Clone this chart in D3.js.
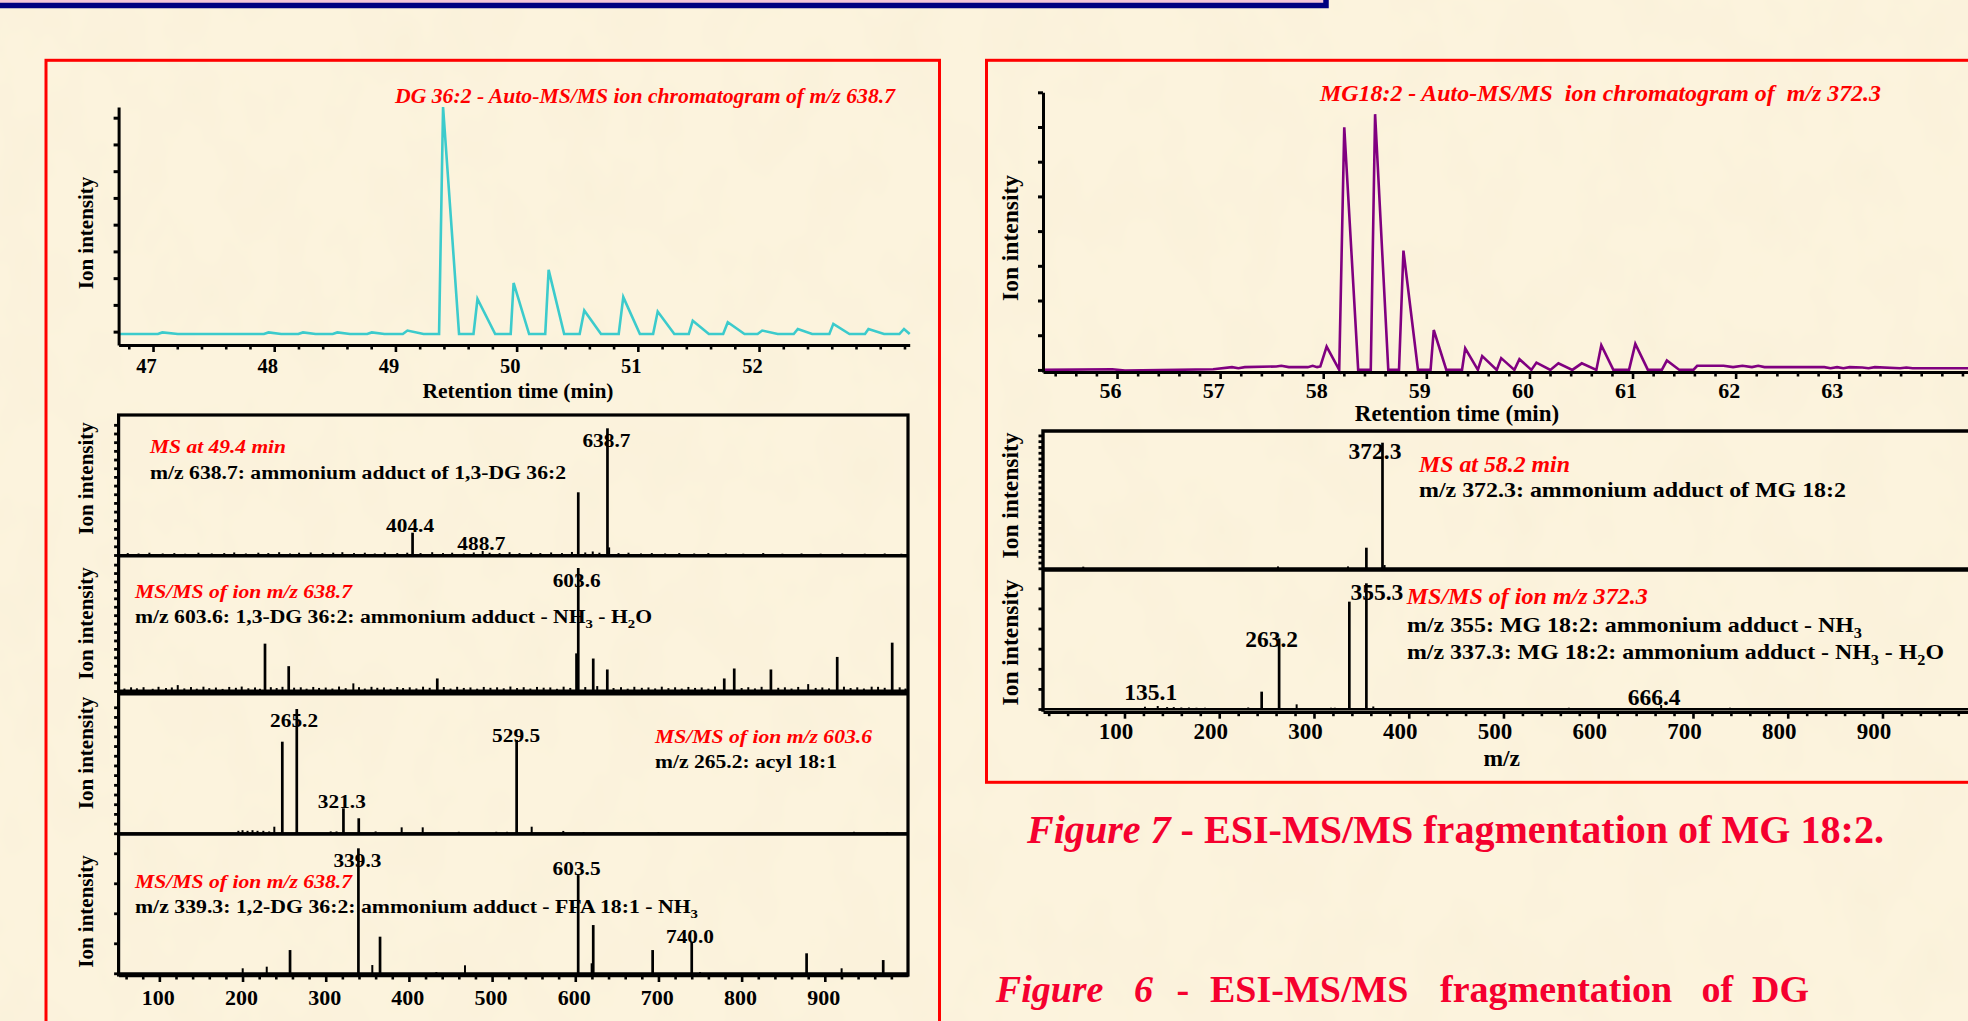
<!DOCTYPE html>
<html>
<head>
<meta charset="utf-8">
<script src="https://d3js.org/d3.v7.min.js"></script>
<style>
  body { margin: 0; background: #fbf1da; overflow: hidden; }
</style>
</head>
<body>
<div id="poster"></div>
<script>

// ---------------- data ----------------

// Fig 6 - DG 36:2 : auto-MS/MS ion chromatogram of m/z 638.7  [retention time (min), intensity (tick units)]
var dgTrace = [[46.716,-0.09],[47.040,-0.09],[47.077,-0.03],[47.205,-0.09],[47.915,-0.09],[47.953,-0.03],
  [48.057,-0.09],[48.199,-0.09],[48.237,-0.03],[48.341,-0.09],[48.483,-0.09],[48.521,-0.03],[48.625,-0.09],
  [48.767,-0.09],[48.805,-0.03],[48.909,-0.09],[49.061,-0.09],[49.099,0.04],[49.232,-0.09],[49.360,-0.09],
  [49.393,8.40],[49.525,-0.09],[49.644,-0.09],[49.677,1.22],[49.823,-0.09],[49.951,-0.09],[49.975,1.82],
  [50.103,-0.09],[50.236,-0.09],[50.264,2.31],[50.392,-0.09],[50.520,-0.09],[50.558,0.79],[50.696,-0.09],
  [50.842,-0.09],[50.880,1.29],[51.017,-0.09],[51.126,-0.09],[51.164,0.75],[51.301,-0.09],[51.420,-0.09],
  [51.453,0.41],[51.586,-0.09],[51.704,-0.09],[51.742,0.35],[51.880,-0.09],[51.988,-0.09],[52.026,0.04],
  [52.154,-0.09],[52.286,-0.09],[52.320,0.10],[52.438,-0.09],[52.580,-0.09],[52.613,0.29],[52.746,-0.09],
  [52.874,-0.09],[52.903,0.10],[53.031,-0.09],[53.158,-0.09],[53.196,0.10],[53.243,-0.09]];

// Fig 7 - MG 18:2 : auto-MS/MS ion chromatogram of m/z 372.3
var mgTrace = [[55.282,0],[55.954,0.02],[56.077,-0.02],[56.932,0.02],[57.115,0.08],[57.177,0.05],[57.239,0.08],
  [57.544,0.10],[57.593,0.12],[57.666,0.08],[57.850,0.08],[57.898,0.12],[57.941,0.08],[57.972,0.10],[58.033,0.67],
  [58.155,0],[58.204,6.99],[58.339,0],[58.461,0],[58.503,7.37],[58.631,0],[58.735,0],[58.778,3.44],[58.919,0],
  [59.041,0],[59.072,1.15],[59.194,0],[59.346,0],[59.377,0.62],[59.500,0],[59.542,0.40],[59.683,0],[59.726,0.34],
  [59.854,0],[59.903,0.31],[60.019,0],[60.068,0.21],[60.203,0],[60.281,0.19],[60.416,0],[60.508,0.19],[60.649,0],
  [60.697,0.71],[60.814,0],[60.966,0],[61.027,0.75],[61.149,0],[61.284,0],[61.333,0.27],[61.455,0],[61.590,0],
  [61.627,0.12],[61.883,0.12],[61.975,0.08],[62.066,0.12],[62.158,0.08],[62.219,0.12],[62.280,0.08],[62.860,0.08],
  [62.921,0.05],[62.984,0.08],[63.045,0.05],[63.106,0.08],[63.228,0.07],[63.289,0.05],[63.350,0.08],[63.595,0.05],
  [63.656,0.07],[63.717,0.05],[64.255,0.05]];

// spectra [m/z, relative intensity %]
var ms49 = [[404.4,17.6],[488.7,3.2],[603.6,49.5],[638.7,100],[640.7,6],
  [62,1.5],[75,1.2],[88,1.8],[104,1.2],[118,1.5],[131,1.0],[147,1.8],[163,1.2],[178,1.5],[190,2.0],[204,1.2],
  [219,1.8],[231,1.5],[244,2.2],[257,1.2],[268,1.8],[282,2.0],[296,1.5],[309,1.8],[320,2.2],[334,1.5],[347,1.8],
  [359,1.2],[371,2.0],[386,1.5],[398,1.8],[414,1.5],[428,2.2],[441,1.5],[452,1.8],[466,1.2],[478,2.0],[497,1.8],
  [509,1.5],[521,2.2],[533,1.5],[547,1.8],[558,1.5],[571,2.0],[584,1.5],[596,2.4],[612,2.0],[621,2.8],[629,1.8],
  [652,1.5],[664,1.8],[679,1.2],[692,1.5],[708,1.2],[725,1.5],[743,1.2],[760,1.5],[781,1.2],[802,1.0],[826,1.5],
  [849,1.0],[872,1.2],[895,1.0],[921,1.2],[948,1.0],[972,1.2],[992,1.0]];

var msms638a = [[122.1,4.8],[227,38.5],[255.5,20.2],[333.2,6.2],[434.1,10.2],[601.5,30.6],[603.6,100],[621.6,26.4],
  [626.4,4],[638.5,17.5],[779.1,10.2],[791.1,18.3],[835.2,17.5],[880,5.6],[914.9,27.7],[956.3,3.5],[981,39.3],
  [58,2],[66,3],[73,2.2],[81,3.1],[92,1.8],[99,3.4],[108,2.4],[115,2.9],[130,2.1],[138,3.2],[145,1.9],[153,3.5],
  [160,2.3],[168,2.8],[176,1.7],[184,3.3],[192,2.6],[199,3.6],[207,2.2],[215,2.9],[221,1.8],[234,3.1],[241,2.4],
  [248,3.4],[262,2.7],[270,3.0],[277,1.9],[285,3.3],[292,2.5],[300,2.8],[308,2.0],[316,3.6],[324,2.3],[340,3.1],
  [347,2.0],[355,3.4],[362,2.6],[370,2.9],[378,1.8],[386,3.2],[393,2.4],[401,3.0],[409,2.1],[417,3.5],[425,2.6],
  [442,3.2],[450,2.0],[458,3.4],[466,2.5],[474,2.9],[482,1.9],[490,3.3],[498,2.6],[506,3.0],[514,2.2],[522,3.6],
  [530,2.4],[538,3.1],[546,2.0],[554,3.3],[562,2.7],[570,2.9],[578,1.8],[586,3.5],[594,2.5],[612,3.2],[646,2.4],
  [655,3.1],[663,1.9],[671,3.4],[680,2.6],[688,2.9],[696,2.1],[704,3.5],[712,2.3],[720,3.0],[728,2.0],[736,3.3],
  [744,2.5],[752,2.9],[760,1.9],[768,3.6],[800,2.4],[808,3.1],[816,2.1],[824,3.4],[844,2.6],[852,3.0],[860,2.0],
  [868,3.3],[889,2.5],[897,2.9],[905,2.1],[923,3.5],[931,2.4],[939,3.0],[947,2.0],[964,3.4],[972,2.6],[990,3.0],[997,2.0]];

var msms603 = [[265.2,100],[247.8,73.7],[529.5,75.1],[321.3,20.1],[339.7,12.1],[238.2,5.3],[391.3,4.8],[416.6,4.8],
  [547.6,5.3],[585.6,1.9],[195,2],[200,2.5],[206,2],[212,2.5],[218,2],[225,2],[232,1.5],[306,1.5],[313,1.5],
  [360,1.5],[460,1.2],[505,1.2],[518,1.2],[610,1],[700,1],[935,1.2],[975,1]];

var msms638b = [[339.3,100],[603.5,78.6],[621.6,38.6],[365.3,29.3],[257.1,18.6],[693,18.6],[740.0,25.3],[878.1,16],
  [970.2,10.6],[200.2,4],[229.1,5.3],[356,6.6],[467.4,6.4],[920.2,4],[619.7,8],[433,1],[750,1]];

var ms58 = [[56.5,1.3],[262,1.5],[335.9,1.5],[355.3,16.4],[372.3,100],[374.5,2.6]];

var msms372 = [[121.6,1.8],[135.1,2.4],[145,1.5],[152,1.5],[160,1.2],[168,1.2],[176,1.0],[185,1.0],[230.6,1.2],
  [244.8,13.8],[263.2,56.2],[281.7,3.7],[318,1],[322,1],[337.3,85.4],[355.3,100],[362.6,2],[569,1],[666.4,3.2],[739,1]];

// peak labels [m/z of labelled peak, text]
var ms49Labels     = [[404.4,"404.4"],[488.7,"488.7"],[638.7,"638.7"]];
var msms638aLabels = [[603.6,"603.6"]];
var msms603Labels  = [[265.2,"265.2"],[321.3,"321.3"],[529.5,"529.5"]];
var msms638bLabels = [[339.3,"339.3"],[603.5,"603.5"],[740.0,"740.0"]];
var ms58Labels     = [[372.3,"372.3"]];
var msms372Labels  = [[355.3,"355.3"],[263.2,"263.2"],[135.1,"135.1"],[666.4,"666.4"]];

// tick labels
var dgTimeTicks = [47, 48, 49, 50, 51, 52];
var mgTimeTicks = [56, 57, 58, 59, 60, 61, 62, 63];
var mzTicks = [100, 200, 300, 400, 500, 600, 700, 800, 900];

// ---------------- drawing ----------------

var W = 1968, H = 1021;
var FONT = '"Liberation Serif", "Times New Roman", Times, serif';
var RED = "#ff0000";

var svg = d3.select("#poster").append("svg")
  .attr("width", W).attr("height", H);

// parchment background
var defs = svg.append("defs");
var paper = defs.append("filter").attr("id", "paper")
  .attr("x", 0).attr("y", 0).attr("width", "100%").attr("height", "100%");
paper.append("feTurbulence").attr("type", "fractalNoise")
  .attr("baseFrequency", "0.018 0.012").attr("numOctaves", 3).attr("seed", 7);
paper.append("feColorMatrix").attr("type", "matrix")
  .attr("values", "0 0 0 0 0.90  0 0 0 0 0.84  0 0 0 0 0.64  0.55 0 0 0 -0.22");
svg.append("rect").attr("width", W).attr("height", H).attr("fill", "#fcf3dd");
svg.append("rect").attr("width", W).attr("height", H).attr("filter", "url(#paper)");

// title banner remnant at the top
svg.append("rect").attr("x", -10).attr("y", -30).attr("width", 1336).attr("height", 35.5)
  .attr("fill", "#f4c6d8").attr("stroke", "#000080").attr("stroke-width", 5.5);

// red frames
svg.append("rect").attr("x", 46).attr("y", 60.3).attr("width", 893.5).attr("height", 1000)
  .attr("fill", "none").attr("stroke", RED).attr("stroke-width", 3);
svg.append("rect").attr("x", 986.5).attr("y", 60.3).attr("width", 1100).attr("height", 722)
  .attr("fill", "none").attr("stroke", RED).attr("stroke-width", 3);

// text helper: parts may be strings, {it: "..."} or {sub: "..."}
function addText(parent, o) {
  var t = parent.append("text")
    .attr("x", o.x).attr("y", o.y)
    .attr("font-family", FONT).attr("font-weight", "bold")
    .attr("font-size", o.size)
    .attr("font-style", o.italic ? "italic" : null)
    .attr("fill", o.color || "#000")
    .attr("text-anchor", o.anchor || "start")
    .style("white-space", "pre");
  if (o.transform) t.attr("transform", o.transform);
  if (o.w) t.attr("textLength", o.w).attr("lengthAdjust", "spacingAndGlyphs");
  var parts = typeof o.text === "string" ? [o.text] : o.text;
  var low = false, shift = o.size * 0.28;
  parts.forEach(function(p) {
    var s = t.append("tspan");
    if (typeof p === "string") {
      s.text(p);
      if (low) { s.attr("dy", -shift); low = false; }
    } else if (p.sub) {
      s.text(p.sub).attr("font-size", o.size * 0.68).attr("dy", shift);
      low = true;
    } else if (p.it) {
      s.text(p.it).attr("font-style", "italic");
      if (low) { s.attr("dy", -shift); low = false; }
    }
  });
  return t;
}

function ionLabel(x, y, size) {
  addText(svg, {x: 0, y: 0, text: "Ion intensity", size: size, anchor: "middle",
    transform: "translate(" + x + "," + y + ") rotate(-90)"});
}

function styleAxis(g, o) {
  g.attr("font-family", null).attr("font-size", null);
  g.select(".domain").attr("stroke", "#000").attr("stroke-width", o.line || 3);
  if (o.noDomain) g.select(".domain").remove();
  g.selectAll(".tick line").attr("stroke", "#000").attr("stroke-width", o.tickWidth || 2.6);
  if (o.major) {
    g.selectAll(".tick line").attr("y2", function(d) { return o.major(d) ? o.majorLen : o.minorLen; });
  }
  g.selectAll(".tick text")
    .attr("x", o.dx || 0).attr("y", o.labelY).attr("dy", null)
    .attr("fill", "#000").attr("font-family", FONT).attr("font-weight", "bold")
    .attr("font-size", o.size);
}

// ---- chromatograms ----
function drawChrom(cfg) {
  var g = svg.append("g");
  var line = d3.line()
    .x(function(d) { return cfg.x(d[0]); })
    .y(function(d) { return cfg.y(d[1]); });
  g.append("path").datum(cfg.data)
    .attr("d", line).attr("fill", "none")
    .attr("stroke", cfg.color).attr("stroke-width", 2.6).attr("stroke-linejoin", "miter");

  var isMajor = function(d) { return cfg.labels.indexOf(Math.round(d * 5) / 5) >= 0; };
  var ax = g.append("g").attr("transform", "translate(0," + cfg.axisY + ")")
    .call(d3.axisBottom(cfg.x).tickValues(cfg.ticks).tickSizeOuter(0)
      .tickFormat(function(d) { return isMajor(d) ? d3.format("d")(d) : ""; }));
  styleAxis(ax, {line: 3, major: isMajor, majorLen: 7, minorLen: 4.5, dx: cfg.labelDx,
    labelY: cfg.labelY, size: cfg.labelSize});

  var ay = g.append("g").attr("transform", "translate(" + cfg.axisX + ",0)")
    .call(d3.axisLeft(cfg.y).tickValues(d3.range(0, 9)).tickSize(5).tickSizeOuter(0).tickFormat(""));
  styleAxis(ay, {line: 3, tickWidth: 3});
}

var xDg = d3.scaleLinear().domain([46.716, 53.243]).range([118.6, 909.7]);
var yDg = d3.scaleLinear().domain([-0.5, 8.4]).range([345, 107]);
drawChrom({data: dgTrace, x: xDg, y: yDg, color: "#3ccbcc", axisY: 345, axisX: 118.6,
  ticks: d3.range(234, 267).map(function(k) { return k / 5; }), labels: dgTimeTicks,
  labelDx: -7, labelY: 28, labelSize: 20.5});

var xMg = d3.scaleLinear().domain([55.282, 64.6]).range([1043, 2003.7]);
var yMg = d3.scaleLinear().domain([-0.06, 8]).range([372, 92.3]);
drawChrom({data: mgTrace, x: xMg, y: yMg, color: "#800080", axisY: 372, axisX: 1043,
  ticks: d3.range(277, 323).map(function(k) { return k / 5; }), labels: mgTimeTicks,
  labelDx: -7, labelY: 26, labelSize: 22});

addText(svg, {x: 395, y: 103, text: "DG 36:2 - Auto-MS/MS ion chromatogram of m/z 638.7",
  size: 21.5, italic: true, color: RED, w: 500});
addText(svg, {x: 518, y: 398, text: "Retention time (min)", size: 21.5, anchor: "middle"});
ionLabel(93, 233, 21);

addText(svg, {x: 1320, y: 101, text: "MG18:2 - Auto-MS/MS  ion chromatogram of  m/z 372.3",
  size: 23, italic: true, color: RED, w: 561});
addText(svg, {x: 1457, y: 421, text: "Retention time (min)", size: 23, anchor: "middle"});
ionLabel(1017.7, 238, 23.5);

// ---- stacked spectra ----
function drawSpectrum(x, y, data, cfg) {
  var g = svg.append("g");
  var x0 = x.range()[0], x1 = Math.min(x.range()[1], cfg.xEnd);
  g.append("line").attr("x1", x0).attr("x2", x1).attr("y1", y(0)).attr("y2", y(0))
    .attr("stroke", "#000").attr("stroke-width", cfg.base || 2);
  g.selectAll("line.peak").data(data).enter().append("line")
    .attr("class", "peak")
    .attr("x1", function(d) { return x(d[0]); }).attr("x2", function(d) { return x(d[0]); })
    .attr("y1", y(0)).attr("y2", function(d) { return y(d[1]); })
    .attr("stroke", "#000").attr("stroke-width", function(d) { return d[1] > 8 ? 2.7 : 2; });

  var ay = g.append("g").attr("transform", "translate(" + x0 + ",0)")
    .call(d3.axisLeft(y).tickValues(d3.range(0, y.invert(cfg.top + 4), cfg.step))
      .tickSize(4.5).tickSizeOuter(0).tickFormat(""));
  styleAxis(ay, {noDomain: true, tickWidth: 2.8});

  (cfg.labels || []).forEach(function(l, i) {
    var peak = data.filter(function(d) { return d[0] === l[0]; })[0];
    addText(g, {x: x(l[0]) + cfg.labelDx[i], y: y(peak[1]) + cfg.labelDy[i], text: l[1],
      size: cfg.labelSize, anchor: "middle", w: cfg.labelW});
  });
}

// left stack (Figure 6)
var xMzL = d3.scaleLinear().domain([51, 1000]).range([118.6, 908]);
var leftPanels = [
  {data: ms49,     top: 415, base: 555,   full: 428.3, step: 6.85, labels: ms49Labels,
   labelDx: [-2.5, -1.3, -1], labelDy: [-1, -1, 18.4]},
  {data: msms638a, top: 556, base: 691,   full: 568,   step: 6.85, labels: msms638aLabels, base2: 3,
   labelDx: [-1.6], labelDy: [18.7]},
  {data: msms603,  top: 694, base: 833.3, full: 709,   step: 7.8,  labels: msms603Labels,
   labelDx: [-2.7, -1.6, -0.5], labelDy: [17.7, 0, 1.7]},
  {data: msms638b, top: 834, base: 973.3, full: 848.3, step: 24,   labels: msms638bLabels,
   labelDx: [-1, -1.6, -1.7], labelDy: [18.4, 0, 1.6]}
];
leftPanels.forEach(function(p) {
  var y = d3.scaleLinear().domain([0, 100]).range([p.base, p.full]);
  drawSpectrum(xMzL, y, p.data, {top: p.top, step: p.step, labels: p.labels, xEnd: 908,
    labelDx: p.labelDx, labelDy: p.labelDy, labelSize: 19.5, labelW: 48, base: p.base2 || 2});
});
svg.append("rect").attr("x", 118.6).attr("y", 415).attr("width", 789.4).attr("height", 560)
  .attr("fill", "none").attr("stroke", "#000").attr("stroke-width", 3.2);
[555.7, 693.8, 834].forEach(function(v) {
  svg.append("line").attr("x1", 118.6).attr("x2", 908).attr("y1", v).attr("y2", v)
    .attr("stroke", "#000").attr("stroke-width", 3.4);
});
var mzMajor = function(d) { return d % 100 === 0; };
var axL = svg.append("g").attr("transform", "translate(0,975)")
  .call(d3.axisBottom(xMzL).tickValues(d3.range(60, 1000, 20)).tickSizeOuter(0)
    .tickFormat(function(d) { return mzTicks.indexOf(d) >= 0 ? d : ""; }));
styleAxis(axL, {line: 3.4, major: mzMajor, majorLen: 7, minorLen: 4.5, dx: -1.6, labelY: 30, size: 22});

var ANN = 18.5;
addText(svg, {x: 150, y: 453.3, text: "MS at 49.4 min", size: 19, italic: true, color: RED, w: 136});
addText(svg, {x: 150, y: 479, text: "m/z 638.7: ammonium adduct of 1,3-DG 36:2", size: ANN, w: 416});
addText(svg, {x: 135, y: 598.3, text: "MS/MS of ion m/z 638.7", size: 19, italic: true, color: RED, w: 217});
addText(svg, {x: 135, y: 623.3, size: ANN, w: 517,
  text: ["m/z 603.6: 1,3-DG 36:2: ammonium adduct - NH", {sub: "3"}, " - H", {sub: "2"}, "O"]});
addText(svg, {x: 655, y: 743.3, text: "MS/MS of ion m/z 603.6", size: 19, italic: true, color: RED, w: 217});
addText(svg, {x: 655, y: 768.3, text: "m/z 265.2: acyl 18:1", size: ANN, w: 182});
addText(svg, {x: 135, y: 888.3, text: "MS/MS of ion m/z 638.7", size: 19, italic: true, color: RED, w: 217});
addText(svg, {x: 135, y: 913, size: ANN, w: 563,
  text: ["m/z 339.3: 1,2-DG 36:2: ammonium adduct - FFA 18:1 - NH", {sub: "3"}]});
[478.5, 623.5, 753, 911.5].forEach(function(c) { ionLabel(93, c, 21); });

// right stack (Figure 7)
var xMzR = d3.scaleLinear().domain([14, 1010]).range([1043, 1986.7]);
var rightPanels = [
  {data: ms58,    top: 431, base: 568.3, full: 442.7, step: 4.6, labels: ms58Labels,
   labelDx: [-7.5], labelDy: [16.6]},
  {data: msms372, top: 570, base: 709,   full: 583.3, step: 16,  labels: msms372Labels,
   labelDx: [10.5, -7.5, -7, -7], labelDy: [16.7, 8.4, -6, 0]}
];
rightPanels.forEach(function(p) {
  var y = d3.scaleLinear().domain([0, 100]).range([p.base, p.full]);
  drawSpectrum(xMzR, y, p.data, {top: p.top, step: p.step, labels: p.labels, xEnd: 1975,
    labelDx: p.labelDx, labelDy: p.labelDy, labelSize: 23.5});
});
svg.append("path").attr("d", "M1990,431H1043V711.7")
  .attr("fill", "none").attr("stroke", "#000").attr("stroke-width", 3.4);
svg.append("line").attr("x1", 1043).attr("x2", 1990).attr("y1", 570).attr("y2", 570)
  .attr("stroke", "#000").attr("stroke-width", 3.6);
var axR = svg.append("g").attr("transform", "translate(0,711.7)")
  .call(d3.axisBottom(xMzR).tickValues(d3.range(20, 1010, 20)).tickSizeOuter(0)
    .tickFormat(function(d) { return mzTicks.indexOf(d) >= 0 ? d : ""; }));
styleAxis(axR, {line: 3.6, major: mzMajor, majorLen: 7, minorLen: 4.5, dx: -9, labelY: 27.5, size: 23});
addText(svg, {x: 1501.7, y: 766, text: "m/z", size: 23.5, anchor: "middle"});

addText(svg, {x: 1419, y: 471.7, text: "MS at 58.2 min", size: 23, italic: true, color: RED, w: 151});
addText(svg, {x: 1419, y: 497, text: "m/z 372.3: ammonium adduct of MG 18:2", size: 21.5, w: 427});
addText(svg, {x: 1406.7, y: 604, text: "MS/MS of ion m/z 372.3", size: 23, italic: true, color: RED, w: 241});
addText(svg, {x: 1407, y: 632, size: 21.5, w: 455,
  text: ["m/z 355: MG 18:2: ammonium adduct - NH", {sub: "3"}]});
addText(svg, {x: 1407, y: 659.3, size: 21.5, w: 537,
  text: ["m/z 337.3: MG 18:2: ammonium adduct - NH", {sub: "3"}, " - H", {sub: "2"}, "O"]});
ionLabel(1017.7, 495.5, 23.5);
ionLabel(1017.7, 642.5, 23.5);

// ---- figure captions ----
var CAP = "#f5002e";
addText(svg, {x: 1027, y: 843, size: 40, color: CAP, w: 857,
  text: [{it: "Figure 7"}, " - ESI-MS/MS fragmentation of MG 18:2."]});
var fig6Words = [["Figure", 995.8, true], ["6", 1134, true], ["-", 1176.6, false], ["ESI-MS/MS", 1210, false],
  ["fragmentation", 1440, false], ["of", 1701.5, false], ["DG", 1752, false]];
fig6Words.forEach(function(w) {
  addText(svg, {x: w[1], y: 1002, text: w[0], size: 38, italic: w[2], color: CAP});
});

</script>
</body>
</html>
